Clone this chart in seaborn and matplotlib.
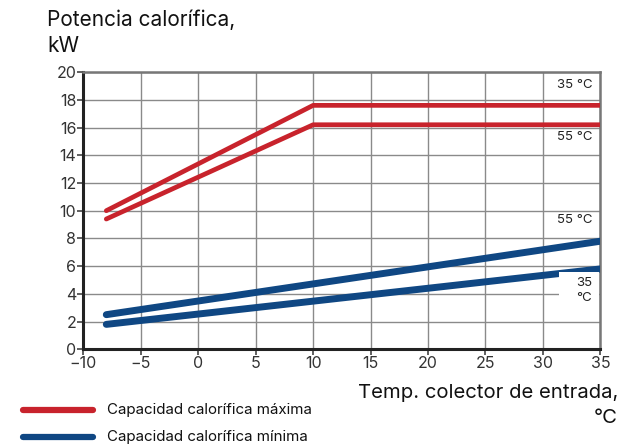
import matplotlib
matplotlib.use("Agg")
import matplotlib.pyplot as plt
from matplotlib.lines import Line2D
from matplotlib.patches import Rectangle
import seaborn as sns
import pandas as pd

# Inlet brine temperature breakpoints (°C)
temp_max = [-8, 10, 35]
temp_min = [-8, 35]
# Heating output (kW) per flow temperature
max_35 = [10.0, 17.6, 17.6]
max_55 = [9.4, 16.2, 16.2]
min_55 = [2.5, 7.8]
min_35 = [1.8, 5.8]

x_ticks = [-10, -5, 0, 5, 10, 15, 20, 25, 30, 35]
y_ticks = [0, 2, 4, 6, 8, 10, 12, 14, 16, 18, 20]

RED = "#c8232c"
BLUE = "#0f4783"

df = pd.concat([
    pd.DataFrame({"temp": temp_max, "kw": max_35, "curve": "max35"}),
    pd.DataFrame({"temp": temp_max, "kw": max_55, "curve": "max55"}),
    pd.DataFrame({"temp": temp_min, "kw": min_55, "curve": "min55"}),
    pd.DataFrame({"temp": temp_min, "kw": min_35, "curve": "min35"}),
])

sns.set_theme(style="white")
plt.rcParams["font.family"] = ["Inter", "DejaVu Sans"]

fig = plt.figure(figsize=(6.34, 4.45), dpi=100)
ax = fig.add_axes([0.1314, 0.215, 0.8156, 0.623])

ax.set_xlim(-10, 35)
ax.set_ylim(0, 20)
ax.set_xticks(x_ticks)
ax.set_yticks(y_ticks)
ax.set_xticklabels([str(v).replace("-", "\u2212") for v in x_ticks])
ax.grid(True, color="#8a8a8a", linewidth=1.0)
ax.set_axisbelow(True)

for name, color, lw in [("max35", RED, 3.4), ("max55", RED, 3.4),
                        ("min55", BLUE, 5.0), ("min35", BLUE, 5.0)]:
    sns.lineplot(data=df[df["curve"] == name], x="temp", y="kw", ax=ax,
                 color=color, linewidth=lw, legend=False,
                 solid_capstyle="round", zorder=3)

ax.set_xlabel("")
ax.set_ylabel("")

for side in ["left", "bottom"]:
    ax.spines[side].set_color("#222222")
    ax.spines[side].set_linewidth(2.2)
for side in ["top", "right"]:
    ax.spines[side].set_color("#777777")
    ax.spines[side].set_linewidth(1.8)

ax.tick_params(axis="both", which="both", direction="out", length=4,
               width=1.2, color="#444444", labelsize=11.5,
               labelcolor="#333333", pad=1,
               bottom=True, left=True)

# Curve labels
lab_kw = dict(fontsize=9.5, color="#222222", ha="right", va="center")
ax.text(34.3, 19.05, "35 °C", **lab_kw)
ax.text(34.3, 15.3, "55 °C", **lab_kw)
ax.text(34.3, 9.3, "55 °C", **lab_kw)
# white backing behind the low-temperature label
ax.add_patch(Rectangle((31.4, 3.2), 3.5, 2.4, facecolor="white",
                       edgecolor="none", zorder=4))
ax.text(34.3, 4.8, "35", zorder=5, **lab_kw)
ax.text(34.3, 3.7, "°C", zorder=5, **lab_kw)

# Axis titles
fig.text(0.074, 0.9416, "Potencia calorífica,", fontsize=15,
         ha="left", va="baseline", color="#111111")
fig.text(0.074, 0.883, "kW", fontsize=15,
         ha="left", va="baseline", color="#111111")
fig.text(0.975, 0.1056, "Temp. colector de entrada,", fontsize=14.6,
         ha="right", va="baseline", color="#111111")
fig.text(0.975, 0.0494, "°C", fontsize=14.6,
         ha="right", va="baseline", color="#111111")

# Legend
for yy, color, label in [(0.0787, RED, "Capacidad calorífica máxima"),
                         (0.018, BLUE, "Capacidad calorífica mínima")]:
    fig.add_artist(Line2D([0.036, 0.147], [yy, yy], color=color,
                          linewidth=4.5, solid_capstyle="round",
                          transform=fig.transFigure))
    fig.text(0.169, yy, label, fontsize=10.9, ha="left", va="center",
             color="#111111")

fig.savefig("out.png", dpi=100)
